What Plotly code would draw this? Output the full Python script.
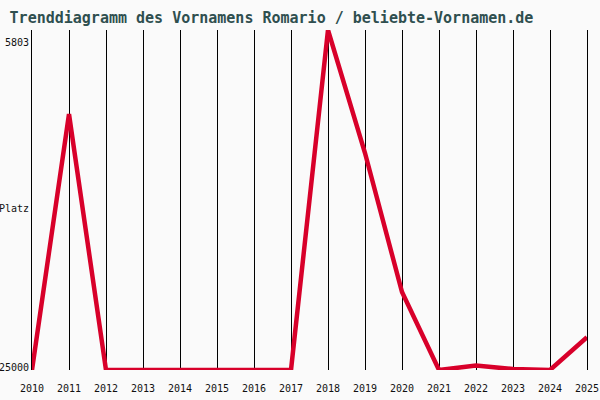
import plotly.graph_objects as go

# Rang (Platz) je Jahr, 25000 = nicht in den Top-Rängen
years = list(range(2010, 2026))
ranks = [25000, 10550, 25000, 25000, 25000, 25000, 25000, 25000,
         5803, 12750, 20600, 25000, 24750, 24950, 25000, 23150]

rank_top = 5803
rank_bottom = 25000

title_text = "Trenddiagramm des Vornamens Romario / beliebte-Vornamen.de"
mono = "DejaVu Sans Mono, Liberation Mono, monospace"

fig = go.Figure()

fig.add_trace(go.Scatter(
    x=years, y=ranks, mode="lines",
    line=dict(color="#d8002a", width=4.5),
    hoverinfo="x+y", showlegend=False,
))

layout = go.Layout(
    width=600, height=400,
    paper_bgcolor="#fafafa", plot_bgcolor="#fafafa",
    margin=dict(l=32, r=13, t=30, b=30, autoexpand=False),
    title=dict(text=title_text, x=0.016, xanchor="left", y=0.955, yanchor="middle",
               font=dict(family=mono, size=15, color="#2f4f4f", weight="bold")),
    xaxis=dict(range=[2010, 2025], tickmode="array", tickvals=years,
               ticktext=[str(y) for y in years], ticklabeloverflow="allow",
               showgrid=True, gridcolor="black", gridwidth=1, zeroline=False,
               ticks="outside", ticklen=9, tickcolor="#fafafa",
               tickfont=dict(family=mono, size=10, color="#111111")),
    yaxis=dict(range=[rank_bottom, rank_top], showgrid=False, zeroline=False,
               showticklabels=False, showline=True, mirror=True,
               linecolor="black", linewidth=1),
)
fig.update_layout(layout)

# Achsenbeschriftung links
label_font = dict(family=mono, size=10, color="#111111")
fig.add_annotation(x=0, xref="paper", xanchor="right", xshift=-1,
                   y=rank_top, yref="y", yshift=-12, showarrow=False,
                   text=str(rank_top), font=label_font)
fig.add_annotation(x=0, xref="paper", xanchor="right", xshift=-1,
                   y=rank_bottom, yref="y", yshift=3, showarrow=False,
                   text=str(rank_bottom), font=label_font)
fig.add_annotation(x=0, xref="paper", xanchor="right", xshift=-1,
                   y=0.5, yref="paper", yshift=-8, showarrow=False,
                   text="Platz", font=label_font)

fig.write_html("out.html", config={"displayModeBar": False},
               post_script="document.body.style.margin='0';")
